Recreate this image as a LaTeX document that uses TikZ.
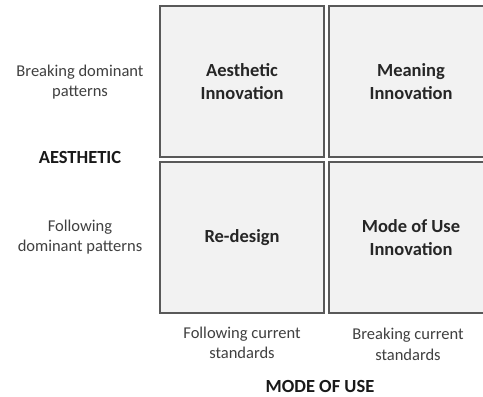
\documentclass[tikz,border=0pt]{standalone}
\usepackage{fontspec}
\setmainfont{Carlito}
\tikzset{
  cell/.style={rectangle,minimum width=164pt,minimum height=151pt,draw=black!65,line width=1.3pt,fill=black!5,align=center,font=\fontsize{18.5}{23.5}\selectfont\bfseries,text=black!85},
  axislabel/.style={align=center,font=\fontsize{16.5}{20.5}\selectfont,text=black!75},
  axistitle/.style={font=\fontsize{18.5}{20}\selectfont\bfseries,text=black!90,inner sep=1pt}
}
\begin{document}
\begin{tikzpicture}[x=1pt,y=-1pt]
\useasboundingbox[fill=white] (0,0) rectangle (483,397);
% the four quadrants
\node (aesthetic) at (242,81.5) [cell] {Aesthetic\\Innovation};
\node (meaning) at (411,81.5) [cell] {Meaning\\Innovation};
\node (redesign) at (242,237.5) [cell] {Re-design};
\node (modeofuse) at (411,237.5) [cell] {Mode of Use\\Innovation};
% vertical axis
\node (breakdom) at (80,82) [axislabel] {Breaking dominant\\patterns};
\node (aestitle) at (80,157) [axistitle] {AESTHETIC};
\node (followdom) at (80,237) [axislabel] {Following\\dominant patterns};
% horizontal axis
\node (followstd) at (242,343) [axislabel] {Following current\\standards};
\node (breakstd) at (408,344.5) [axislabel] {Breaking current\\standards};
\node (usetitle) at (320,386.5) [axistitle] {MODE OF USE};
\end{tikzpicture}
\end{document}
